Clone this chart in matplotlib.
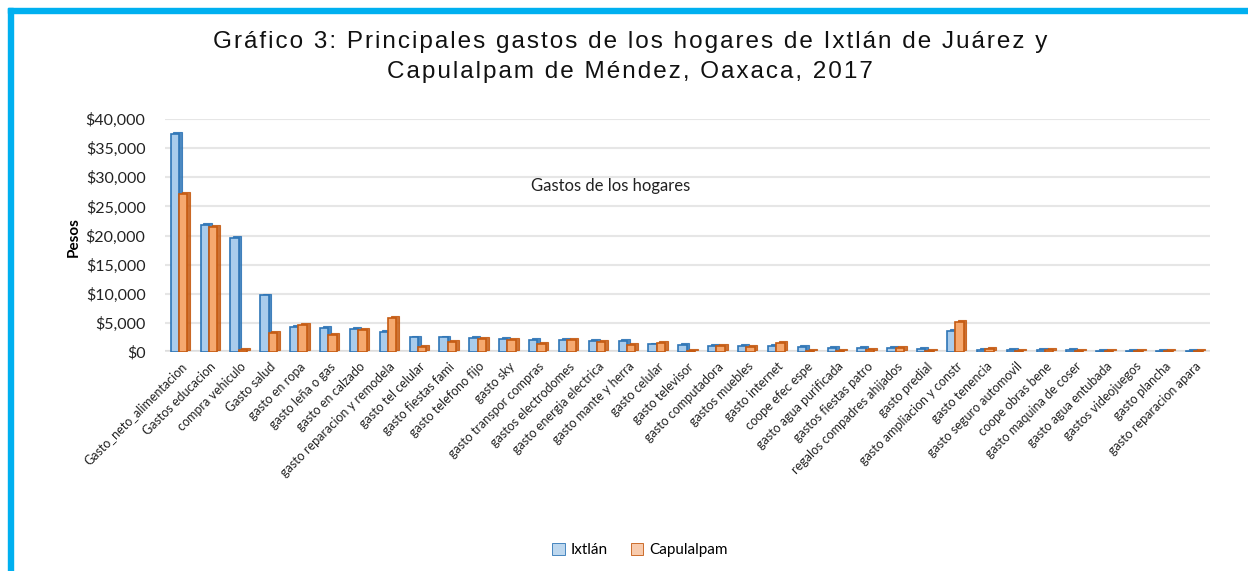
import numpy as np
import matplotlib.pyplot as plt
from matplotlib.patches import Rectangle, Patch
from matplotlib.ticker import FuncFormatter


categorias = [
    "Gasto_neto_alimentacion", "Gastos educacion", "compra vehiculo", "Gasto salud",
    "gasto en ropa", "gasto leña o gas", "gasto en calzado", "gasto reparacion y remodela",
    "gasto tel celular", "gasto fiestas fami", "gasto telefono fijo", "gasto sky",
    "gasto transpor compras", "gastos electrodomes", "gasto energia electrica",
    "gasto mante y herra", "gasto celular", "gasto televisor", "gasto computadora",
    "gastos muebles", "gasto internet", "coope efec espe", "gasto agua purificada",
    "gastos fiestas patro", "regalos compadres ahijados", "gasto predial",
    "gasto ampliacion y constr", "gasto tenencia", "gasto seguro automovil",
    "coope obras bene", "gasto maquina de coser", "gasto agua entubada",
    "gastos videojuegos", "gasto plancha", "gasto reparacion apara",
]
ixtlan = [37500, 21800, 19500, 9700, 4300, 4200, 3900, 3400, 2500, 2500, 2400, 2300,
          2000, 2000, 1900, 1900, 1300, 1200, 1100, 1000, 1000, 900, 700, 700, 700,
          600, 3600, 400, 300, 300, 300, 250, 200, 200, 150]
capulalpam = [27200, 21400, 300, 3200, 4700, 3000, 3800, 5900, 900, 1800, 2300, 2000,
              1400, 2000, 1800, 1200, 1500, 100, 1000, 800, 1500, 200, 200, 400, 700,
              200, 5200, 500, 200, 400, 100, 200, 100, 200, 250]
series = ["Ixtlán", "Capulalpam"]
titulo = ["Gráfico 3: Principales gastos de los hogares de Ixtlán de Juárez y",
          "Capulalpam de Méndez, Oaxaca, 2017"]

W, H = 1248, 571
fig = plt.figure(figsize=(W / 100, H / 100), dpi=100)
ax = fig.add_axes([165 / W, 1 - 352 / H, (1210 - 165) / W, (352 - 119) / H])

# borde azul (izquierda y arriba)
fig.patches.append(Rectangle((8 / W, 0), 5 / W, 1 - 8 / H, transform=fig.transFigure,
                             color="#00B0F0", zorder=0))
fig.patches.append(Rectangle((8 / W, 1 - 13 / H), 1 - 8 / W, 5 / H, transform=fig.transFigure,
                             color="#00B0F0", zorder=0))

x = np.arange(len(categorias))
w = 0.28
dx, dy = 0.09, 330
estilos = [("#A9CCEC", "#2E75B6", "#BDD7EE"), ("#F6A96F", "#C55A11", "#F8CBAD")]
offsets = [-0.17, 0.11]

for vals, off, (fill, edge, _) in zip([ixtlan, capulalpam], offsets, estilos):
    vals = np.array(vals)
    # cara lateral / superior
    ax.bar(x + off + dx, vals, w, bottom=dy, color=edge, edgecolor=edge, linewidth=0.8,
           zorder=2, alpha=0.85)
    ax.bar(x + off, vals, w, color=fill, edgecolor=edge, linewidth=1.2, zorder=3)

ax.set_xlim(-0.5, len(categorias) - 0.5)
ax.set_ylim(0, 40000)
ax.set_yticks(np.arange(0, 40001, 5000))
ax.yaxis.set_major_formatter(FuncFormatter(lambda v, p: "${:,.0f}".format(v)))
ax.grid(axis="y", color="#E6E6E6", linewidth=1.5, zorder=0)
ax.axhline(0, color="#DDDDDD", linewidth=3, zorder=1)
for s in ax.spines.values():
    s.set_visible(False)
ax.tick_params(length=0)
ax.tick_params(axis="y", labelsize=11.5, pad=14)
for t in ax.get_yticklabels():
    t.set_family("Lato")
    t.set_color("#222222")

ax.set_xticks(x)
ax.set_xticklabels(categorias, rotation=45, ha="right", rotation_mode="anchor",
                   fontsize=9, family="Lato", color="#222222")
ax.tick_params(axis="x", pad=6)

ax.set_ylabel("Pesos", fontsize=11, fontweight="bold", family="Lato")
ax.yaxis.set_label_coords(-84 / (1210 - 165), (352 - 237) / (352 - 119))

fig.text(611 / W, 1 - 186 / H, "Gastos de los hogares",
         ha="center", va="center", fontsize=12, family="Lato", color="#222222")

# título con espaciado entre letras
for linea, yp in zip(titulo, [42, 72]):
    fig.text(630 / W, 1 - yp / H, "\u200a".join(linea), ha="center", va="center",
             fontsize=17.5, family=["Liberation Sans", "DejaVu Sans"], color="#111111")

handles = [Patch(facecolor=e[2], edgecolor=e[1], linewidth=0.6) for e in estilos]
leg = fig.legend(handles, series, loc="center", bbox_to_anchor=(640 / W, 1 - 550 / H),
                 ncol=2, frameon=False, prop={"family": "Lato", "size": 11},
                 handlelength=0.8, handleheight=0.8, columnspacing=1.5, handletextpad=0.4)

fig.savefig("out.png", dpi=100)
